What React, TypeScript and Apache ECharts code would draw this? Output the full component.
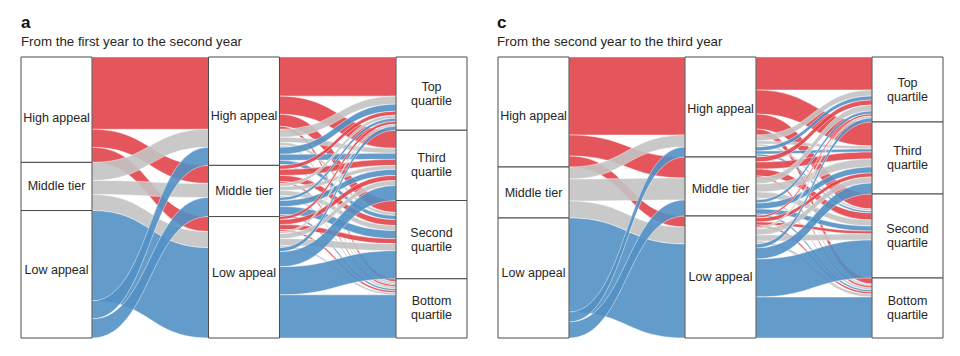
import React, { useEffect, useRef } from "react";
import * as echarts from "echarts";

// ---- data ----
const appealGroups = ["High appeal", "Middle tier", "Low appeal"];
const quartileLabels = ["Top\nquartile", "Third\nquartile", "Second\nquartile", "Bottom\nquartile"];
const groupColors = ["#E2444A", "#C3C3C3", "#5290C4"];

// order in which each first-column group sends its bands out (top to bottom)
const year1ExitOrder = [
  [0, 1, 2],
  [0, 1, 2],
  [2, 0, 1],
];

// panel a: first year -> second year (rows: year-1 group, cols: year-2 group)
const panelAStage1 = [
  [72, 18, 15],
  [18, 14, 16],
  [18, 19, 90],
];
// panel a: [year-1 group][year-2 group][quartile: top, third, second, bottom]
const panelAStage2 = [
  [[39, 18, 12, 3], [4, 6, 6, 2], [3, 5, 5, 2]],
  [[8, 5, 3, 2], [3, 4, 5, 2], [2, 5, 7, 2]],
  [[7, 6, 4, 1], [3, 6, 8, 2], [4, 15, 28, 43]],
];

// panel c: second year -> third year
const panelCStage1 = [
  [78, 21, 11],
  [12, 22, 17],
  [10, 16, 94],
];
const panelCStage2 = [
  [[33, 24, 15, 6], [5, 7, 7, 2], [2, 4, 3, 2]],
  [[6, 3, 2, 1], [6, 8, 6, 2], [2, 6, 6, 3]],
  [[4, 3, 2, 1], [3, 6, 5, 2], [4, 11, 38, 41]],
];

const panelTitles = ["a", "c"];
const panelSubtitles = ["From the first year to the second year", "From the second year to the third year"];

// label vertical nudges [col1 groups, col2 groups]
const panelALabelNudge = [[8, 0, -4], [5, 0, -4]];
const panelCLabelNudge = [[4, 0, -5], [2, 2, 0]];

const FONT = '"Liberation Sans", Arial, sans-serif';

function buildPanel(
  stage1: number[][],
  stage2: number[][][],
  box: { left: number; top: number; width: number; height: number },
  nudge: number[][],
  key: string
) {
  const common = {
    type: "sankey",
    left: box.left,
    top: box.top,
    width: box.width,
    height: box.height,
    nodeWidth: 71,
    nodeGap: 0,
    layoutIterations: 0,
    draggable: false,
    silent: true,
    emphasis: { disabled: true },
  };

  // flows series: nodes split per band so bands keep their origin colour and order
  const flowNodes: any[] = [];
  const flowLinks: any[] = [];
  appealGroups.forEach((_, g) =>
    year1ExitOrder[g].forEach((h) => flowNodes.push({ name: `${key}f1-${g}-${h}` }))
  );
  appealGroups.forEach((_, h) =>
    appealGroups.forEach((_, g) => flowNodes.push({ name: `${key}f2-${h}-${g}` }))
  );
  quartileLabels.forEach((_, q) => flowNodes.push({ name: `${key}f3-${q}` }));
  appealGroups.forEach((_, g) =>
    year1ExitOrder[g].forEach((h) =>
      flowLinks.push({
        source: `${key}f1-${g}-${h}`,
        target: `${key}f2-${h}-${g}`,
        value: stage1[g][h],
        lineStyle: { color: groupColors[g] },
      })
    )
  );
  appealGroups.forEach((_, h) =>
    appealGroups.forEach((_, g) =>
      quartileLabels.forEach((_, q) =>
        flowLinks.push({
          source: `${key}f2-${h}-${g}`,
          target: `${key}f3-${q}`,
          value: stage2[g][h][q],
          lineStyle: { color: groupColors[g] },
        })
      )
    )
  );

  const flowSeries = {
    ...common,
    z: 2,
    data: flowNodes,
    links: flowLinks,
    label: { show: false },
    itemStyle: { color: "#ffffff", borderWidth: 0, opacity: 0 },
    lineStyle: { opacity: 0.9, curveness: 0.5, borderColor: "#ffffff", borderWidth: 0.5 },
  };

  // node boxes series
  const labelMap: Record<string, string> = {};
  const boxNodes: any[] = [];
  const boxLinks: any[] = [];
  appealGroups.forEach((name, g) => {
    labelMap[`${key}n1-${g}`] = name;
    boxNodes.push({ name: `${key}n1-${g}`, label: { offset: [0, nudge[0][g]] } });
  });
  appealGroups.forEach((name, h) => {
    labelMap[`${key}n2-${h}`] = name;
    boxNodes.push({ name: `${key}n2-${h}`, label: { offset: [0, nudge[1][h]] } });
  });
  quartileLabels.forEach((name, q) => {
    labelMap[`${key}n3-${q}`] = name;
    boxNodes.push({ name: `${key}n3-${q}` });
  });
  appealGroups.forEach((_, g) =>
    appealGroups.forEach((_, h) =>
      boxLinks.push({ source: `${key}n1-${g}`, target: `${key}n2-${h}`, value: stage1[g][h] })
    )
  );
  appealGroups.forEach((_, h) =>
    quartileLabels.forEach((_, q) => {
      let v = 0;
      appealGroups.forEach((_, g) => (v += stage2[g][h][q]));
      boxLinks.push({ source: `${key}n2-${h}`, target: `${key}n3-${q}`, value: v });
    })
  );

  const boxSeries = {
    ...common,
    z: 3,
    data: boxNodes,
    links: boxLinks,
    itemStyle: { color: "#ffffff", borderColor: "#4a4a4a", borderWidth: 1 },
    lineStyle: { opacity: 0 },
    label: {
      show: true,
      position: "inside",
      color: "#262626",
      fontSize: 12.5,
      lineHeight: 14,
      fontFamily: FONT,
      align: "center",
      formatter: (p: any) => labelMap[p.name] ?? "",
    },
  };

  return [flowSeries, boxSeries];
}

export default function App() {
  const ref = useRef<HTMLDivElement>(null);
  useEffect(() => {
    if (!ref.current) return;
    const chart = echarts.init(ref.current, null, { renderer: "svg" });
    const panelX = [21, 497];
    const graphic: any[] = [];
    panelTitles.forEach((t, i) => {
      graphic.push({
        type: "text",
        x: panelX[i],
        y: 22,
        silent: true,
        style: {
          text: t,
          fontSize: 17,
          fontWeight: 900,
          fontFamily: FONT,
          fill: "#111",
          verticalAlign: "middle",
        },
      });
      graphic.push({
        type: "text",
        x: panelX[i],
        y: 41,
        silent: true,
        style: {
          text: panelSubtitles[i],
          fontSize: 13.3,
          fontFamily: FONT,
          fill: "#262626",
          verticalAlign: "middle",
        },
      });
    });
    chart.setOption({
      animation: false,
      backgroundColor: "#ffffff",
      graphic,
      series: [
        ...buildPanel(panelAStage1, panelAStage2, { left: 21, top: 57, width: 446, height: 281 }, panelALabelNudge, "a"),
        ...buildPanel(panelCStage1, panelCStage2, { left: 498, top: 57, width: 445, height: 281 }, panelCLabelNudge, "c"),
      ],
    });
    return () => chart.dispose();
  }, []);
  return (
    <div
      ref={ref}
      style={{ position: "fixed", left: 0, top: 0, width: 960, height: 356, background: "#fff" }}
    />
  );
}
